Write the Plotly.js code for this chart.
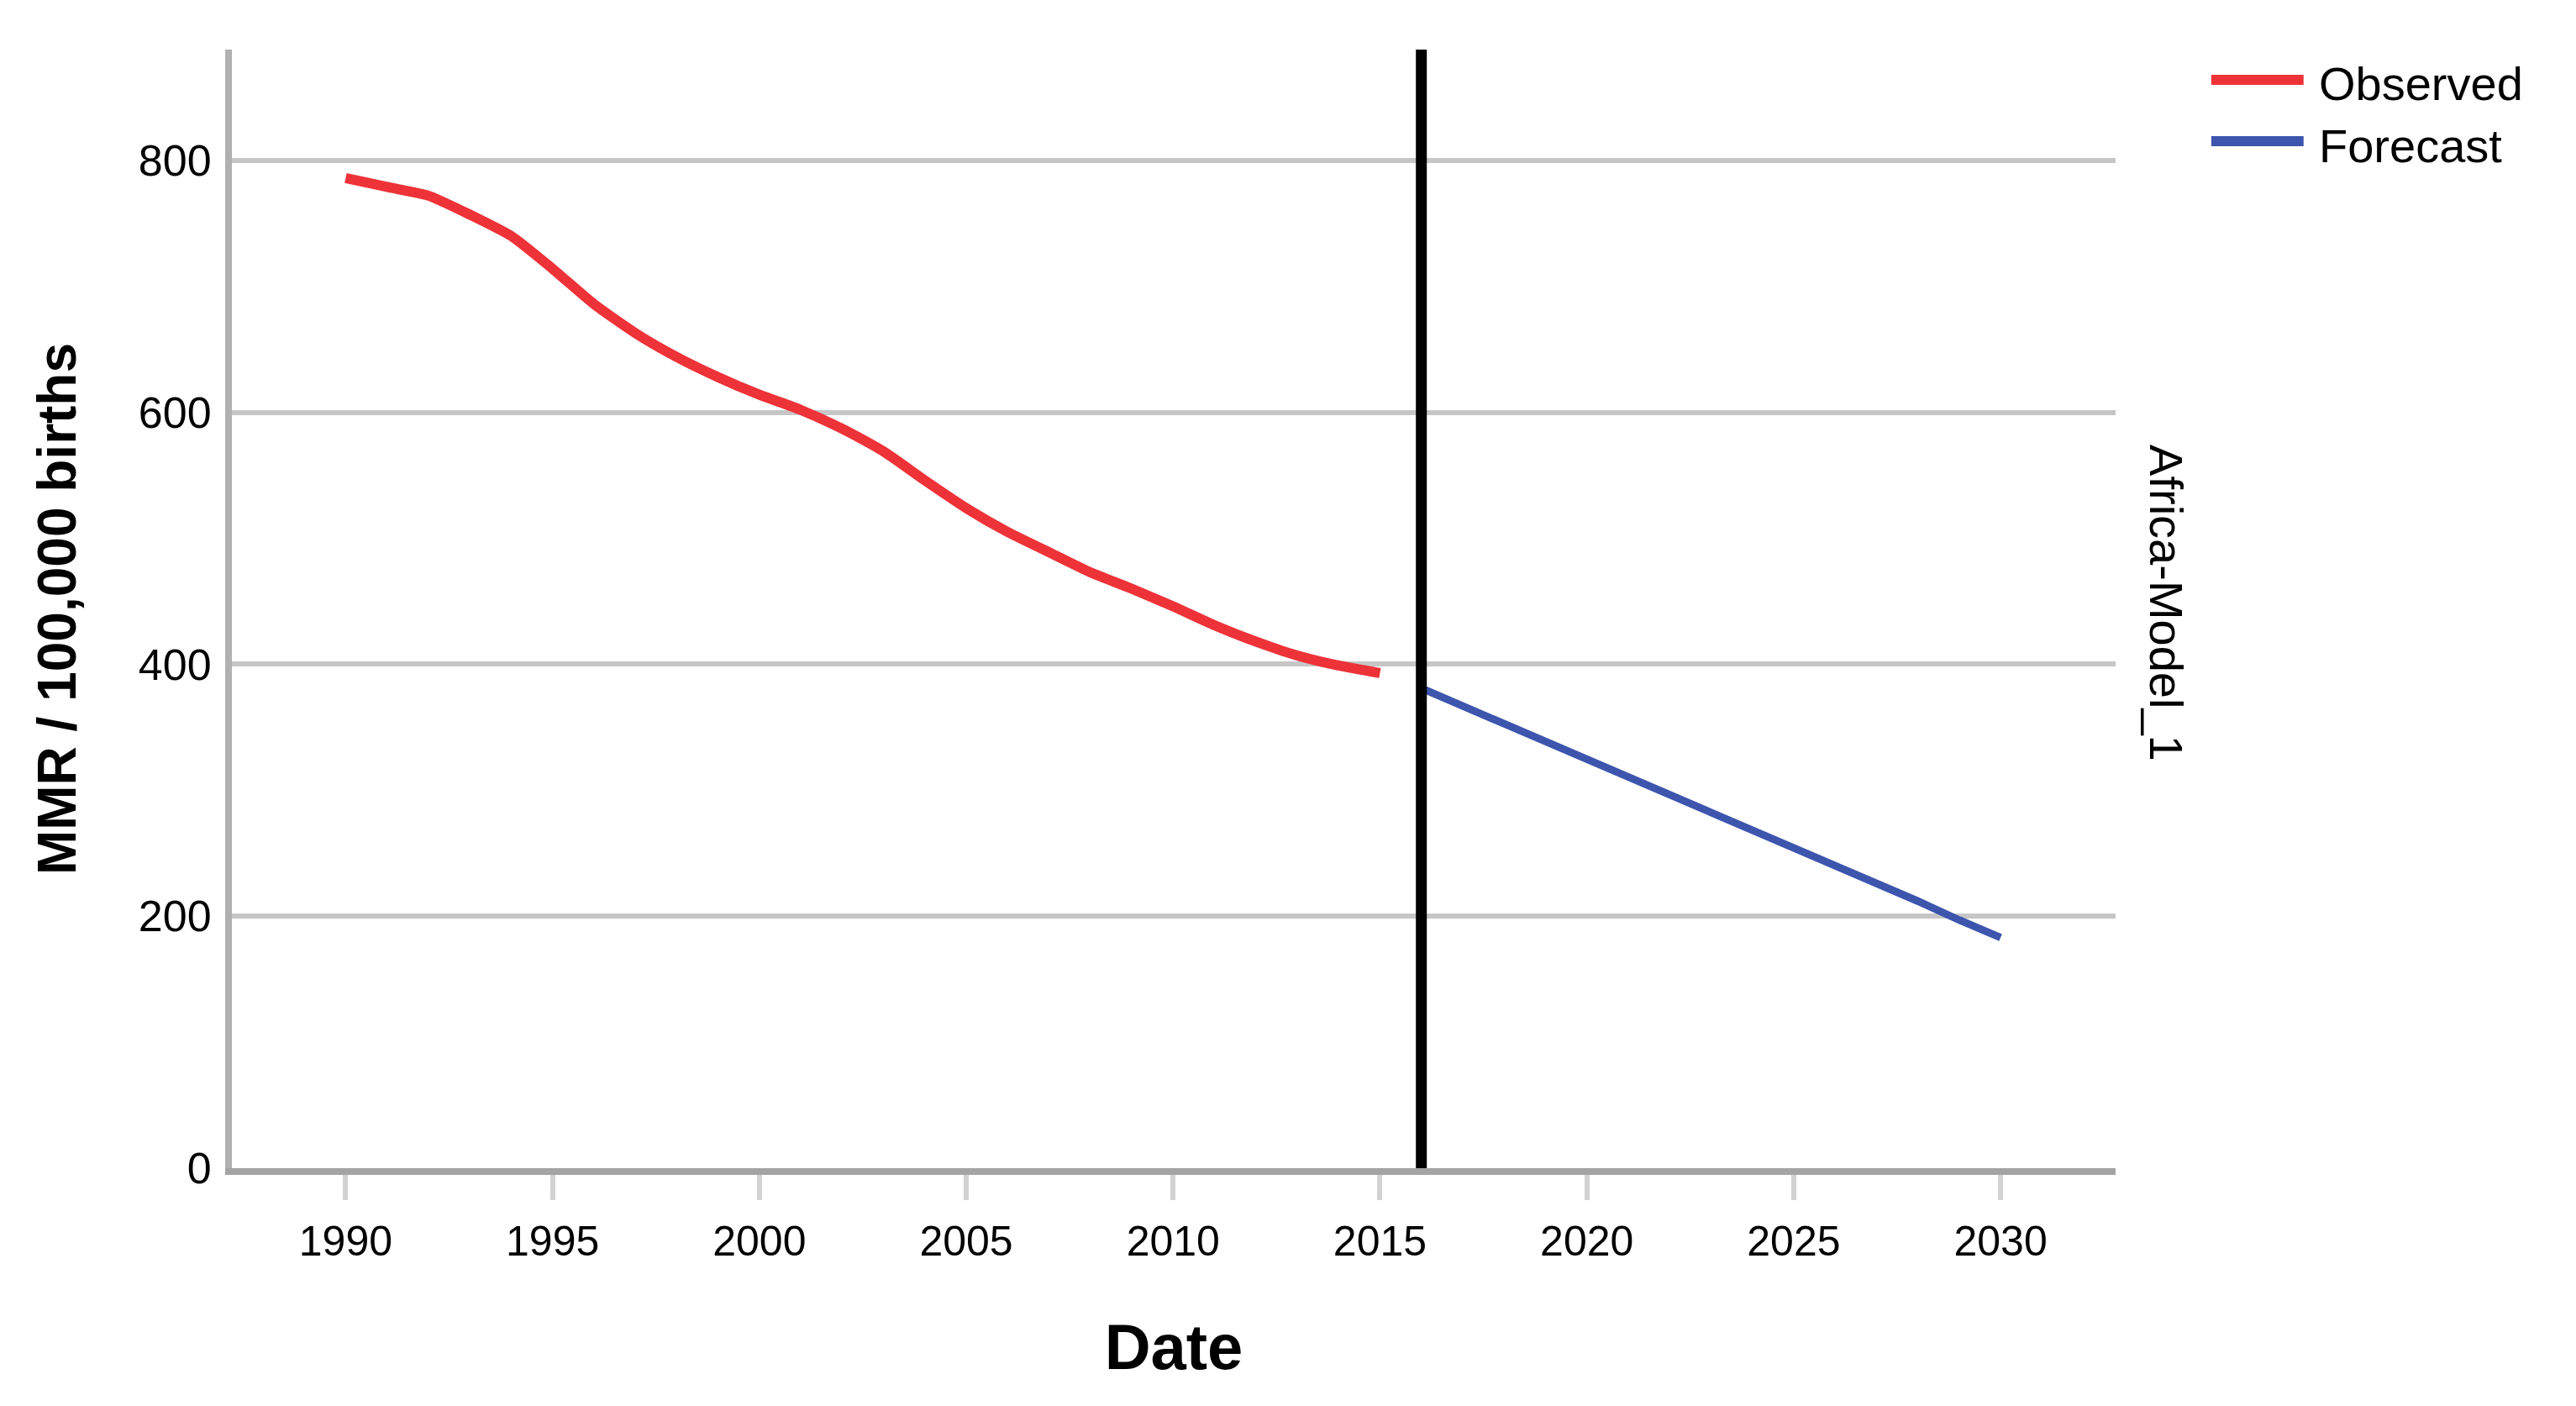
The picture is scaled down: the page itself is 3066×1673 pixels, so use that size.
<!DOCTYPE html>
<html>
<head>
<meta charset="utf-8">
<script src="https://cdn.plot.ly/plotly-3.0.1.min.js"></script>
<style>html,body{margin:0;padding:0;background:#fff;}#chart{width:3066px;height:1673px;}</style>
</head>
<body>
<div id="chart"></div>
<script>
// Observed series (MMR per 100,000 births)
const obsYears = [1990,1991,1992,1993,1994,1995,1996,1997,1998,1999,2000,2001,2002,2003,2004,2005,2006,2007,2008,2009,2010,2011,2012,2013,2014,2015];
const obsValues = [786,779,772,757,740,714,686,663,644,628,614,602,587,569,546,524,505,489,473,460,446,431,418,407,399,393];
// Forecast series
const fcYears = [2016,2017,2018,2019,2020,2021,2022,2023,2024,2025,2026,2027,2028,2029,2030];
const fcValues = [381,367,353,339,325,311,297,283,268,254,240,226,212,197,183];
// Reference line: start of forecast
const forecastStart = 2016;
// Text
const seriesNames = ["Observed", "Forecast"];
const modelLabel = "Africa-Model_1";
const xTitle = "Date";
const yTitle = "MMR / 100,000 births";

const RED = "#ee3338";
const BLUE = "#3d55ad";
const FONT = "Arial, 'Liberation Sans', sans-serif";

const traces = [
  {x: obsYears, y: obsValues, type: "scatter", mode: "lines", name: seriesNames[0],
   line: {color: RED, width: 12, shape: "spline", smoothing: 0.6}, hoverinfo: "skip"},
  {x: fcYears, y: fcValues, type: "scatter", mode: "lines", name: seriesNames[1],
   line: {color: BLUE, width: 9}, hoverinfo: "skip"}
];

const layout = {
  width: 3066, height: 1673,
  margin: {l: 276, r: 548, t: 59, b: 283, pad: 0},
  paper_bgcolor: "#ffffff", plot_bgcolor: "#ffffff",
  showlegend: false,
  font: {family: FONT, color: "#000"},
  xaxis: {
    range: [1987.25, 2032.78], tickmode: "linear", tick0: 1990, dtick: 5,
    showgrid: false, zeroline: false,
    showline: true, linecolor: "#a4a4a4", linewidth: 8,
    ticks: "outside", ticklen: 30, tickwidth: 6, tickcolor: "#d2d2d2",
    tickfont: {family: FONT, size: 50, color: "#000"},
    ticklabelstandoff: 6,
    title: {text: xTitle, font: {family: FONT, size: 76, color: "#000", weight: "bold"}, standoff: 75}
  },
  yaxis: {
    range: [0, 888], tickmode: "linear", tick0: 0, dtick: 200,
    showgrid: true, gridcolor: "#c6c6c6", gridwidth: 6, zeroline: false,
    showline: true, linecolor: "#b0b0b0", linewidth: 8,
    ticks: "", ticklabelstandoff: 6,
    tickfont: {family: FONT, size: 52, color: "#000"},
    title: {text: yTitle, font: {family: FONT, size: 64, color: "#000", weight: "bold"}, standoff: 56}
  },
  shapes: [
    {type: "line", xref: "x", yref: "paper", x0: forecastStart, x1: forecastStart, y0: 0, y1: 1,
     line: {color: "#000", width: 13}, layer: "above"},
    // legend keys
    {type: "line", xref: "paper", yref: "paper", x0: 1.0508, x1: 1.0998, y0: 0.9730, y1: 0.9730,
     line: {color: RED, width: 12}},
    {type: "line", xref: "paper", yref: "paper", x0: 1.0508, x1: 1.0998, y0: 0.9181, y1: 0.9181,
     line: {color: BLUE, width: 12}}
  ],
  annotations: [
    {xref: "paper", yref: "paper", x: 1.1070, y: 0.9692, xanchor: "left", yanchor: "middle",
     text: seriesNames[0], showarrow: false, font: {family: FONT, size: 56, color: "#000"}},
    {xref: "paper", yref: "paper", x: 1.1070, y: 0.9143, xanchor: "left", yanchor: "middle",
     text: seriesNames[1], showarrow: false, font: {family: FONT, size: 56, color: "#000"}},
    {xref: "paper", yref: "paper", x: 1.0267, y: 0.5049, xanchor: "center", yanchor: "middle",
     text: modelLabel, textangle: 90, showarrow: false, font: {family: FONT, size: 56, color: "#000"}}
  ]
};

Plotly.newPlot("chart", traces, layout, {displayModeBar: false, staticPlot: true});
</script>
</body>
</html>
